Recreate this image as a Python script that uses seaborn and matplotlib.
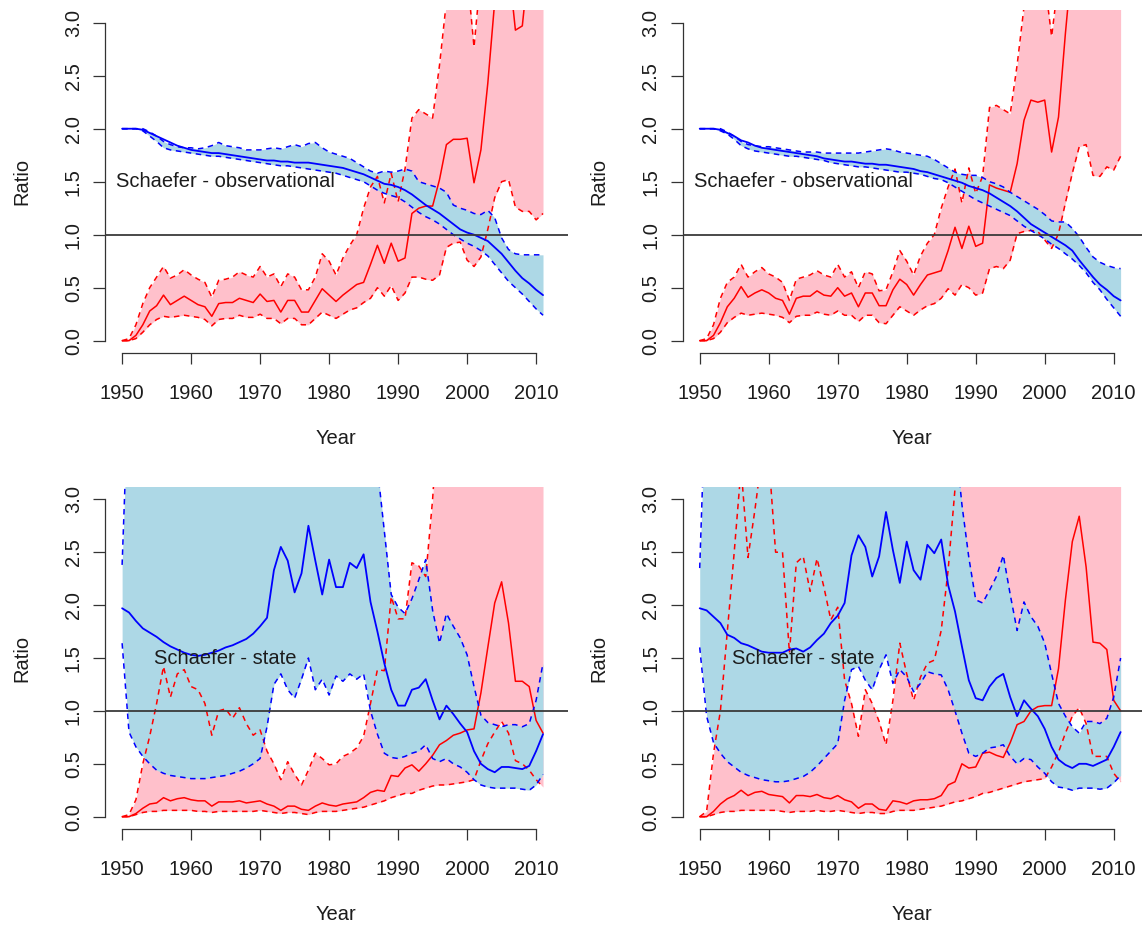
import numpy as np
import matplotlib
matplotlib.use("Agg")
import matplotlib.pyplot as plt
import seaborn as sns

sns.set_style("ticks")
plt.rcParams["font.family"] = ["Liberation Sans", "DejaVu Sans"]

years = np.arange(1950, 2012)

# ---------------- Panel 1: top-left (Schaefer - observational)
B1_mid = [2.00, 2.00, 2.00, 1.99, 1.96, 1.93, 1.90, 1.87, 1.84, 1.82,
          1.80, 1.79, 1.78, 1.77, 1.77, 1.76, 1.75, 1.74, 1.73, 1.72,
          1.71, 1.70, 1.70, 1.69, 1.69, 1.68, 1.68, 1.68, 1.67, 1.66,
          1.65, 1.64, 1.63, 1.61, 1.59, 1.57, 1.54, 1.51, 1.48, 1.47,
          1.45, 1.42, 1.38, 1.33, 1.28, 1.24, 1.20, 1.15, 1.10, 1.05,
          1.02, 1.00, 0.97, 0.94, 0.88, 0.82, 0.74, 0.66, 0.59, 0.54,
          0.48, 0.43]
B1_hi = [2.00, 2.00, 2.00, 2.00, 1.97, 1.93, 1.88, 1.85, 1.83, 1.82,
         1.82, 1.81, 1.82, 1.84, 1.87, 1.84, 1.83, 1.82, 1.80, 1.80,
         1.80, 1.81, 1.82, 1.81, 1.83, 1.85, 1.83, 1.86, 1.87, 1.82,
         1.78, 1.76, 1.74, 1.72, 1.68, 1.64, 1.60, 1.58, 1.60, 1.59,
         1.60, 1.62, 1.60, 1.50, 1.48, 1.46, 1.44, 1.40, 1.28, 1.25,
         1.23, 1.20, 1.19, 1.23, 1.16, 0.97, 0.86, 0.82, 0.81, 0.81,
         0.81, 0.81]
B1_lo = [2.00, 2.00, 2.00, 1.98, 1.93, 1.88, 1.82, 1.80, 1.79, 1.78,
         1.77, 1.76, 1.75, 1.74, 1.74, 1.73, 1.72, 1.71, 1.70, 1.69,
         1.68, 1.67, 1.66, 1.65, 1.65, 1.64, 1.63, 1.62, 1.61, 1.60,
         1.59, 1.58, 1.56, 1.54, 1.52, 1.50, 1.46, 1.42, 1.39, 1.37,
         1.35, 1.31, 1.26, 1.21, 1.17, 1.14, 1.10, 1.05, 1.00, 0.96,
         0.92, 0.89, 0.85, 0.80, 0.72, 0.64, 0.56, 0.50, 0.44, 0.37,
         0.30, 0.24]
F1_mid = [0.00, 0.00, 0.05, 0.15, 0.28, 0.33, 0.43, 0.34, 0.38, 0.42,
          0.38, 0.34, 0.32, 0.23, 0.35, 0.36, 0.36, 0.40, 0.38, 0.36,
          0.44, 0.37, 0.38, 0.27, 0.38, 0.38, 0.27, 0.27, 0.38, 0.49,
          0.43, 0.37, 0.43, 0.48, 0.53, 0.55, 0.72, 0.90, 0.73, 0.92,
          0.75, 0.78, 1.20, 1.25, 1.27, 1.27, 1.52, 1.85, 1.90, 1.90,
          1.91, 1.49, 1.80, 2.43, 3.20, 3.60, 3.55, 2.93, 2.97, 3.60,
          3.70, 3.70]
F1_hi = [0.00, 0.02, 0.15, 0.35, 0.50, 0.60, 0.70, 0.59, 0.62, 0.67,
         0.62, 0.58, 0.55, 0.41, 0.57, 0.58, 0.60, 0.65, 0.62, 0.60,
         0.70, 0.60, 0.63, 0.51, 0.63, 0.60, 0.48, 0.48, 0.60, 0.82,
         0.75, 0.62, 0.78, 0.90, 1.00, 1.25, 1.45, 1.55, 1.30, 1.58,
         1.31, 1.62, 2.10, 2.18, 2.14, 2.10, 2.60, 3.20, 3.60, 3.60,
         3.47, 2.77, 3.47, 3.60, 3.70, 3.70, 3.70, 3.70, 3.70, 3.70,
         3.70, 3.70]
F1_lo = [0.00, 0.00, 0.02, 0.08, 0.15, 0.20, 0.23, 0.22, 0.23, 0.24,
         0.23, 0.22, 0.20, 0.14, 0.20, 0.21, 0.21, 0.24, 0.22, 0.22,
         0.25, 0.21, 0.21, 0.16, 0.21, 0.21, 0.15, 0.15, 0.21, 0.27,
         0.24, 0.21, 0.25, 0.29, 0.31, 0.36, 0.40, 0.50, 0.42, 0.52,
         0.38, 0.45, 0.60, 0.60, 0.58, 0.57, 0.62, 0.88, 0.92, 0.93,
         0.76, 0.70, 0.79, 1.05, 1.35, 1.50, 1.52, 1.26, 1.22, 1.22,
         1.14, 1.20]

# ---------------- Panel 2: top-right (Schaefer - observational)
B2_mid = [2.00, 2.00, 2.00, 1.99, 1.96, 1.93, 1.89, 1.87, 1.84, 1.82,
          1.81, 1.80, 1.79, 1.78, 1.77, 1.76, 1.75, 1.74, 1.72, 1.71,
          1.70, 1.69, 1.69, 1.68, 1.67, 1.67, 1.66, 1.66, 1.65, 1.64,
          1.63, 1.62, 1.60, 1.59, 1.57, 1.55, 1.53, 1.51, 1.49, 1.46,
          1.44, 1.42, 1.39, 1.35, 1.31, 1.27, 1.22, 1.16, 1.10, 1.06,
          1.02, 0.98, 0.94, 0.90, 0.85, 0.76, 0.68, 0.60, 0.53, 0.48,
          0.42, 0.38]
B2_hi = [2.00, 2.00, 2.00, 2.00, 1.97, 1.93, 1.88, 1.85, 1.84, 1.83,
         1.83, 1.82, 1.81, 1.80, 1.79, 1.78, 1.78, 1.78, 1.77, 1.77,
         1.77, 1.77, 1.77, 1.77, 1.78, 1.79, 1.80, 1.81, 1.80, 1.78,
         1.77, 1.76, 1.75, 1.74, 1.71, 1.67, 1.63, 1.59, 1.57, 1.56,
         1.56, 1.54, 1.50, 1.48, 1.45, 1.40, 1.36, 1.32, 1.28, 1.24,
         1.19, 1.13, 1.12, 1.12, 1.06, 0.98, 0.88, 0.79, 0.74, 0.71,
         0.69, 0.68]
B2_lo = [2.00, 2.00, 2.00, 1.98, 1.95, 1.90, 1.84, 1.81, 1.79, 1.78,
         1.77, 1.76, 1.75, 1.74, 1.74, 1.73, 1.72, 1.71, 1.70, 1.68,
         1.67, 1.66, 1.65, 1.64, 1.64, 1.63, 1.62, 1.61, 1.60, 1.59,
         1.59, 1.58, 1.57, 1.55, 1.53, 1.52, 1.49, 1.45, 1.41, 1.37,
         1.33, 1.30, 1.27, 1.24, 1.21, 1.18, 1.13, 1.08, 1.04, 1.00,
         0.96, 0.91, 0.87, 0.82, 0.77, 0.71, 0.64, 0.55, 0.48, 0.39,
         0.31, 0.23]
F2_mid = [0.00, 0.00, 0.05, 0.17, 0.32, 0.40, 0.51, 0.41, 0.45, 0.48,
          0.45, 0.40, 0.38, 0.25, 0.40, 0.42, 0.42, 0.47, 0.43, 0.42,
          0.50, 0.42, 0.45, 0.32, 0.45, 0.45, 0.33, 0.33, 0.48, 0.58,
          0.53, 0.43, 0.53, 0.62, 0.64, 0.66, 0.85, 1.07, 0.87, 1.08,
          0.89, 0.92, 1.47, 1.44, 1.42, 1.40, 1.67, 2.08, 2.27, 2.25,
          2.27, 1.78, 2.11, 2.90, 3.60, 3.70, 3.70, 3.70, 3.70, 3.70,
          3.70, 3.70]
F2_hi = [0.00, 0.02, 0.15, 0.40, 0.55, 0.60, 0.72, 0.60, 0.65, 0.69,
         0.63, 0.60, 0.55, 0.38, 0.58, 0.60, 0.62, 0.66, 0.62, 0.60,
         0.72, 0.60, 0.65, 0.50, 0.65, 0.63, 0.47, 0.48, 0.65, 0.85,
         0.75, 0.62, 0.80, 0.92, 1.00, 1.25, 1.45, 1.62, 1.30, 1.63,
         1.39, 1.55, 2.20, 2.22, 2.18, 2.14, 2.60, 3.15, 3.60, 3.60,
         3.40, 2.87, 3.40, 3.60, 3.70, 3.70, 3.70, 3.70, 3.70, 3.70,
         3.70, 3.70]
F2_lo = [0.00, 0.00, 0.02, 0.08, 0.17, 0.22, 0.26, 0.24, 0.25, 0.26,
         0.25, 0.24, 0.22, 0.17, 0.23, 0.24, 0.24, 0.27, 0.25, 0.24,
         0.28, 0.24, 0.24, 0.18, 0.24, 0.24, 0.17, 0.16, 0.24, 0.32,
         0.28, 0.24, 0.29, 0.33, 0.35, 0.40, 0.49, 0.43, 0.53, 0.50,
         0.43, 0.45, 0.68, 0.70, 0.68, 0.76, 1.01, 1.03, 1.04, 1.03,
         0.95, 0.87, 1.01, 1.30, 1.58, 1.83, 1.85, 1.56, 1.55, 1.64,
         1.61, 1.74]

# ---------------- Panel 3: bottom-left (Schaefer - state)
B3_mid = [1.97, 1.93, 1.85, 1.78, 1.74, 1.70, 1.65, 1.61, 1.58, 1.55,
          1.53, 1.52, 1.53, 1.55, 1.57, 1.60, 1.62, 1.65, 1.68, 1.73,
          1.80, 1.88, 2.33, 2.55, 2.42, 2.12, 2.30, 2.75, 2.42, 2.10,
          2.43, 2.17, 2.17, 2.40, 2.35, 2.48, 2.03, 1.75, 1.45, 1.20,
          1.05, 1.05, 1.20, 1.22, 1.30, 1.10, 0.92, 1.05, 0.97, 0.88,
          0.80, 0.62, 0.50, 0.45, 0.42, 0.47, 0.47, 0.46, 0.45, 0.48,
          0.62, 0.78]
B3_hi = [2.38, 4.20, 4.50, 4.50, 4.50, 4.50, 4.50, 4.50, 4.50, 4.50,
         4.50, 4.50, 4.50, 4.50, 4.50, 4.50, 4.50, 4.50, 4.50, 4.50,
         4.50, 4.50, 4.50, 4.50, 4.50, 4.50, 4.50, 4.50, 4.50, 4.50,
         4.50, 4.50, 4.50, 4.50, 4.50, 4.50, 3.80, 3.30, 2.70, 2.10,
         1.98, 1.92, 2.06, 2.24, 2.43, 1.95, 1.64, 1.92, 1.80, 1.69,
         1.53, 1.23, 0.96, 0.89, 0.87, 0.85, 0.87, 0.87, 0.85, 0.88,
         1.10, 1.45]
B3_lo = [1.64, 0.80, 0.66, 0.57, 0.50, 0.44, 0.41, 0.39, 0.38, 0.37,
         0.36, 0.36, 0.36, 0.37, 0.38, 0.39, 0.41, 0.43, 0.46, 0.50,
         0.55, 0.85, 1.25, 1.35, 1.20, 1.12, 1.30, 1.50, 1.20, 1.30,
         1.15, 1.33, 1.28, 1.35, 1.30, 1.35, 1.00, 0.78, 0.60, 0.56,
         0.55, 0.57, 0.60, 0.62, 0.68, 0.55, 0.52, 0.55, 0.50, 0.47,
         0.42, 0.35, 0.30, 0.28, 0.27, 0.27, 0.27, 0.27, 0.26, 0.25,
         0.30, 0.40]
F3_mid = [0.00, 0.00, 0.03, 0.08, 0.12, 0.13, 0.18, 0.15, 0.17, 0.18,
          0.16, 0.15, 0.15, 0.10, 0.14, 0.14, 0.14, 0.15, 0.13, 0.14,
          0.15, 0.12, 0.10, 0.06, 0.10, 0.10, 0.07, 0.06, 0.10, 0.13,
          0.11, 0.10, 0.12, 0.13, 0.14, 0.18, 0.23, 0.25, 0.24, 0.39,
          0.38, 0.46, 0.49, 0.43, 0.50, 0.58, 0.68, 0.72, 0.77, 0.79,
          0.82, 0.83, 1.17, 1.60, 2.02, 2.22, 1.83, 1.28, 1.28, 1.23,
          0.91, 0.79]
F3_hi = [0.00, 0.02, 0.16, 0.50, 0.76, 1.07, 1.42, 1.13, 1.35, 1.39,
         1.23, 1.20, 1.07, 0.77, 1.00, 1.02, 0.93, 1.03, 0.88, 0.77,
         0.82, 0.62, 0.50, 0.35, 0.52, 0.40, 0.30, 0.44, 0.60, 0.55,
         0.49, 0.50, 0.57, 0.60, 0.65, 0.76, 1.07, 1.39, 1.38, 2.08,
         1.87, 1.87, 2.40, 2.37, 2.27, 3.00, 4.00, 4.00, 4.00, 4.00,
         4.00, 4.00, 4.00, 4.00, 4.00, 4.00, 4.00, 4.00, 4.00, 4.00,
         4.00, 4.00]
F3_lo = [0.00, 0.00, 0.02, 0.04, 0.05, 0.05, 0.06, 0.06, 0.06, 0.06,
         0.06, 0.05, 0.05, 0.04, 0.05, 0.05, 0.05, 0.05, 0.05, 0.05,
         0.06, 0.05, 0.04, 0.03, 0.04, 0.04, 0.03, 0.02, 0.04, 0.05,
         0.05, 0.05, 0.06, 0.07, 0.08, 0.09, 0.11, 0.13, 0.15, 0.18,
         0.20, 0.22, 0.22, 0.25, 0.27, 0.29, 0.30, 0.30, 0.31, 0.32,
         0.33, 0.35, 0.53, 0.69, 0.80, 0.90, 0.79, 0.53, 0.50, 0.44,
         0.35, 0.28]

# ---------------- Panel 4: bottom-right (Schaefer - state)
B4_mid = [1.97, 1.95, 1.89, 1.83, 1.72, 1.69, 1.64, 1.62, 1.59, 1.56,
          1.55, 1.55, 1.55, 1.58, 1.59, 1.56, 1.60, 1.67, 1.73, 1.83,
          1.90, 2.02, 2.47, 2.66, 2.55, 2.27, 2.46, 2.88, 2.52, 2.21,
          2.60, 2.33, 2.24, 2.57, 2.49, 2.62, 2.19, 1.94, 1.61, 1.29,
          1.12, 1.10, 1.23, 1.31, 1.35, 1.13, 0.95, 1.10, 1.02, 0.95,
          0.83, 0.66, 0.54, 0.49, 0.46, 0.50, 0.50, 0.48, 0.51, 0.54,
          0.66, 0.80]
B4_hi = [2.35, 4.30, 4.50, 4.50, 4.50, 4.50, 4.50, 4.50, 4.50, 4.50,
         4.50, 4.50, 4.50, 4.50, 4.50, 4.50, 4.50, 4.50, 4.50, 4.50,
         4.50, 4.50, 4.50, 4.50, 4.50, 4.50, 4.50, 4.50, 4.50, 4.50,
         4.50, 4.50, 4.50, 4.50, 4.50, 4.50, 4.50, 3.60, 2.95, 2.45,
         2.05, 2.02, 2.14, 2.27, 2.47, 2.10, 1.76, 2.03, 1.89, 1.80,
         1.64, 1.35, 1.07, 0.95, 0.85, 0.79, 0.90, 0.90, 0.88, 0.93,
         1.13, 1.50]
B4_lo = [1.60, 0.95, 0.70, 0.60, 0.52, 0.47, 0.42, 0.39, 0.37, 0.35,
         0.34, 0.33, 0.33, 0.34, 0.36, 0.38, 0.42, 0.48, 0.55, 0.62,
         0.69, 1.10, 1.39, 1.42, 1.29, 1.20, 1.39, 1.53, 1.26, 1.39,
         1.32, 1.18, 1.26, 1.37, 1.35, 1.34, 1.20, 1.00, 0.79, 0.60,
         0.57, 0.60, 0.65, 0.66, 0.68, 0.57, 0.50, 0.55, 0.54, 0.47,
         0.41, 0.33, 0.28, 0.27, 0.25, 0.27, 0.27, 0.27, 0.26, 0.27,
         0.32, 0.39]
F4_mid = [0.00, 0.00, 0.05, 0.12, 0.17, 0.20, 0.25, 0.20, 0.23, 0.24,
          0.21, 0.20, 0.19, 0.13, 0.20, 0.20, 0.19, 0.21, 0.18, 0.17,
          0.20, 0.16, 0.14, 0.08, 0.12, 0.12, 0.07, 0.06, 0.15, 0.14,
          0.12, 0.15, 0.16, 0.16, 0.17, 0.20, 0.30, 0.33, 0.50, 0.46,
          0.47, 0.60, 0.61, 0.58, 0.56, 0.70, 0.87, 0.90, 1.00, 1.04,
          1.05, 1.05, 1.40, 2.05, 2.60, 2.84, 2.36, 1.65, 1.64, 1.58,
          1.10, 1.00]
F4_hi = [0.00, 0.05, 0.60, 1.00, 1.75, 2.50, 3.30, 2.45, 2.90, 3.40,
         3.40, 2.50, 2.50, 1.55, 2.40, 2.46, 2.13, 2.44, 2.17, 1.86,
         1.98, 1.29, 1.07, 0.76, 1.20, 1.07, 0.90, 0.68, 1.10, 1.64,
         1.35, 1.10, 1.32, 1.45, 1.48, 1.76, 2.33, 3.10, 3.80, 3.80,
         3.80, 3.80, 3.80, 3.80, 3.80, 3.80, 3.80, 3.80, 3.80, 3.80,
         3.80, 3.80, 3.80, 3.80, 3.80, 3.80, 3.80, 3.80, 3.80, 3.80,
         3.80, 3.80]
F4_lo = [0.00, 0.00, 0.02, 0.04, 0.05, 0.05, 0.06, 0.06, 0.06, 0.06,
         0.06, 0.06, 0.05, 0.04, 0.05, 0.05, 0.05, 0.06, 0.05, 0.05,
         0.06, 0.05, 0.04, 0.03, 0.04, 0.04, 0.03, 0.03, 0.05, 0.06,
         0.06, 0.06, 0.07, 0.08, 0.09, 0.10, 0.12, 0.14, 0.15, 0.17,
         0.19, 0.22, 0.23, 0.25, 0.27, 0.29, 0.31, 0.33, 0.34, 0.35,
         0.36, 0.47, 0.61, 0.79, 0.95, 1.03, 0.88, 0.57, 0.57, 0.57,
         0.41, 0.33]

panel_titles = ["Schaefer - observational", "Schaefer - observational",
                "Schaefer - state", "Schaefer - state"]
y_ticks = [0.0, 0.5, 1.0, 1.5, 2.0, 2.5, 3.0]
y_tick_labels = ["0.0", "0.5", "1.0", "1.5", "2.0", "2.5", "3.0"]
x_ticks = [1950, 1960, 1970, 1980, 1990, 2000, 2010]
x_tick_labels = ["1950", "1960", "1970", "1980", "1990", "2000", "2010"]

panels = [
    (B1_mid, B1_lo, B1_hi, F1_mid, F1_lo, F1_hi),
    (B2_mid, B2_lo, B2_hi, F2_mid, F2_lo, F2_hi),
    (B3_mid, B3_lo, B3_hi, F3_mid, F3_lo, F3_hi),
    (B4_mid, B4_lo, B4_hi, F4_mid, F4_lo, F4_hi),
]

W, H = 1142, 925
fig = plt.figure(figsize=(W / 100, H / 100), dpi=100)

# axes boxes in pixels: (left, right, top, bottom)
boxes = [
    (105.0, 567.7, 10.0, 353.4),
    (682.6, 1142.0, 10.0, 353.4),
    (105.0, 567.7, 486.6, 829.4),
    (682.6, 1142.0, 486.6, 829.4),
]
PX_PER_YEAR = 6.9
X0 = 1947.52

FS = 14.5
TXT = "#1c1c1c"
AX = "#333333"
dash = (0, (3.6, 3.0))

for (bm, bl, bh, fm, fl, fh), title, (l, r, t, b) in zip(panels, panel_titles, boxes):
    ax = fig.add_axes([l / W, 1 - b / H, (r - l) / W, (b - t) / H])
    ax.fill_between(years, fl, fh, color="pink", lw=0, zorder=1)
    ax.fill_between(years, bl, bh, color="lightblue", lw=0, zorder=1.5)
    for arr, col, ls, lw in [(fl, "red", dash, 1.1), (fh, "red", dash, 1.1),
                             (fm, "red", "-", 1.1),
                             (bl, "blue", dash, 1.1), (bh, "blue", dash, 1.1),
                             (bm, "blue", "-", 1.3)]:
        sns.lineplot(x=years, y=arr, ax=ax, color=col, linestyle=ls,
                     linewidth=lw, legend=False, estimator=None, zorder=3)
    ax.axhline(1.0, color="#3a3a3a", lw=1.3, zorder=4)
    ax.text(1965, 1.5, title, ha="center", va="center", fontsize=FS,
            color=TXT, zorder=5)

    ax.set_xlim(X0, X0 + (r - l) / PX_PER_YEAR)
    ax.set_ylim(-0.12, 3.12)
    ax.set_xticks(x_ticks, x_tick_labels, fontsize=FS, color=TXT)
    ax.set_yticks(y_ticks, y_tick_labels, fontsize=FS, color=TXT,
                  rotation=90, va="center")
    ax.tick_params(axis="x", length=7.9, width=0.9, color=AX, pad=14)
    ax.tick_params(axis="y", length=9.0, width=0.9, color=AX, pad=7)
    sns.despine(ax=ax)
    ax.spines["left"].set_bounds(0, 3)
    ax.spines["bottom"].set_bounds(1950, 2010)
    for s in ("left", "bottom"):
        ax.spines[s].set_color(AX)
        ax.spines[s].set_linewidth(0.9)
    ax.set_xlabel("Year", fontsize=FS, color=TXT, va="center")
    ax.set_ylabel("Ratio", fontsize=FS, color=TXT, va="center")
    ax.xaxis.set_label_coords(0.5, -0.248)
    ax.yaxis.set_label_coords(-83.3 / (r - l), 0.5)

fig.savefig("out.png", dpi=100)
